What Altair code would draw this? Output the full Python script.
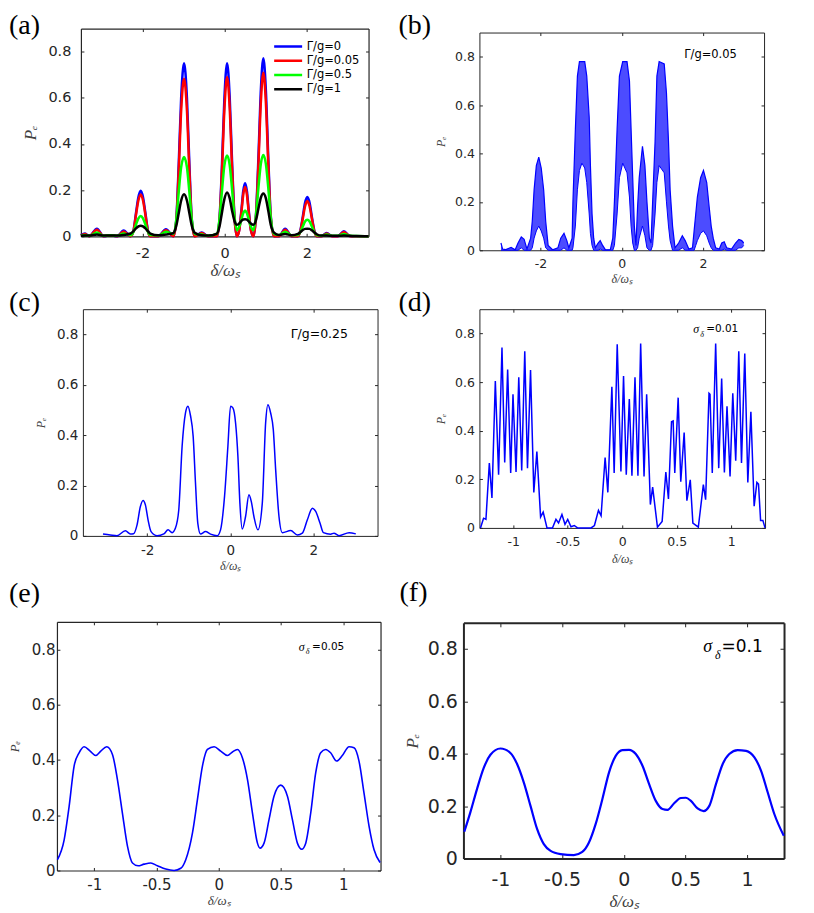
import altair as alt
import pandas as pd

AX = "#262626"
TC = "#404040"
SANS = "DejaVu Sans"
SERIF = "Liberation Serif"
BLUE = "#0000ff"
X_TITLE = "δ/ωₛ"
Y_TITLE = "Pₑ"
W, H = 798, 905   # one shared canvas; every panel gets its own scales inside it

# ---------------- data ----------------
x_ticks_wide = [-2, 0, 2]
x_ticks_narrow = [-1, -0.5, 0, 0.5, 1]
y_ticks = [0, 0.2, 0.4, 0.6, 0.8]
panel_labels = ["(a)", "(b)", "(c)", "(d)", "(e)", "(f)"]

legend_labels = ["Γ/g=0", "Γ/g=0.05", "Γ/g=0.5", "Γ/g=1"]
legend_colors = ["#0000ff", "#ff0000", "#00ff00", "#000000"]

a_x = [-3.5, -3.4, -3.3, -3.11, -2.95, -2.78, -2.62, -2.46, -2.29,
       -2.22, -2.16, -2.10, -2.045, -1.99, -1.93, -1.87, -1.81,
       -1.62, -1.43, -1.25,
       -1.18, -1.12, -1.06, -0.99, -0.92, -0.86, -0.80, -0.73,
       -0.56, -0.40, -0.19,
       -0.13, -0.07, -0.01, 0.057, 0.12, 0.18, 0.24, 0.295,
       0.35, 0.41, 0.45, 0.495, 0.54, 0.58, 0.64, 0.70,
       0.76, 0.82, 0.88, 0.94, 1.00, 1.06, 1.12, 1.20,
       1.32, 1.47, 1.63, 1.78,
       1.84, 1.90, 1.955, 2.01, 2.065, 2.12, 2.18, 2.24,
       2.35, 2.48, 2.62, 2.75, 2.90, 3.05, 3.2, 3.5]
a_blue = [0.005, 0.012, 0.0, 0.033, 0.0, 0.005, 0.0, 0.025, 0.0,
          0.025, 0.1, 0.17, 0.197, 0.17, 0.1, 0.025, 0.0,
          0.0, 0.03, 0.0,
          0.07, 0.31, 0.6, 0.75, 0.6, 0.31, 0.07, 0.0,
          0.016, 0.0, 0.0,
          0.069, 0.294, 0.589, 0.75, 0.606, 0.314, 0.079, 0.0,
          0.025, 0.12, 0.195, 0.23, 0.195, 0.12, 0.025, 0.0,
          0.09, 0.34, 0.636, 0.771, 0.636, 0.34, 0.09, 0.0,
          0.0, 0.033, 0.0, 0.0,
          0.025, 0.085, 0.145, 0.17, 0.145, 0.085, 0.025, 0.0,
          0.0, 0.014, 0.0, 0.0, 0.022, 0.0, 0.0, 0.0]
a_red = [0.004, 0.01, 0.0, 0.028, 0.0, 0.004, 0.0, 0.021, 0.0,
         0.023, 0.092, 0.156, 0.181, 0.156, 0.092, 0.023, 0.0,
         0.0, 0.026, 0.0,
         0.064, 0.282, 0.546, 0.683, 0.546, 0.282, 0.064, 0.0,
         0.014, 0.0, 0.0,
         0.063, 0.27, 0.542, 0.69, 0.558, 0.289, 0.073, 0.0,
         0.023, 0.111, 0.18, 0.213, 0.18, 0.111, 0.023, 0.0,
         0.083, 0.312, 0.584, 0.708, 0.584, 0.312, 0.083, 0.0,
         0.0, 0.028, 0.0, 0.0,
         0.022, 0.077, 0.13, 0.153, 0.13, 0.077, 0.022, 0.0,
         0.0, 0.012, 0.0, 0.0, 0.019, 0.0, 0.0, 0.0]
a_green = [0.003, 0.006, 0.002, 0.016, 0.002, 0.004, 0.002, 0.012, 0.004,
           0.02, 0.05, 0.078, 0.088, 0.078, 0.05, 0.02, 0.005,
           0.003, 0.02, 0.01,
           0.07, 0.19, 0.3, 0.343, 0.3, 0.19, 0.07, 0.01,
           0.008, 0.002, 0.01,
           0.07, 0.19, 0.305, 0.35, 0.31, 0.2, 0.08, 0.026,
           0.04, 0.075, 0.1, 0.112, 0.1, 0.075, 0.04, 0.026,
           0.09, 0.21, 0.315, 0.352, 0.315, 0.21, 0.08, 0.01,
           0.005, 0.02, 0.004, 0.005,
           0.018, 0.042, 0.064, 0.072, 0.064, 0.042, 0.018, 0.004,
           0.002, 0.008, 0.002, 0.002, 0.01, 0.002, 0.001, 0.0]
a_black = [0.002, 0.003, 0.003, 0.008, 0.003, 0.003, 0.003, 0.006, 0.012,
           0.022, 0.034, 0.043, 0.046, 0.043, 0.034, 0.022, 0.012,
           0.004, 0.008, 0.014,
           0.045, 0.1, 0.155, 0.182, 0.155, 0.1, 0.045, 0.015,
           0.004, 0.003, 0.012,
           0.04, 0.1, 0.16, 0.19, 0.165, 0.11, 0.065, 0.05,
           0.055, 0.068, 0.073, 0.074, 0.072, 0.066, 0.054, 0.05,
           0.07, 0.12, 0.168, 0.185, 0.165, 0.11, 0.05, 0.016,
           0.006, 0.01, 0.004, 0.01,
           0.018, 0.027, 0.032, 0.033, 0.032, 0.026, 0.017, 0.009,
           0.003, 0.003, 0.002, 0.002, 0.003, 0.002, 0.001, 0.0]

b_x = [-2.97, -2.93, -2.85, -2.72, -2.62, -2.55, -2.47, -2.40, -2.33,
       -2.24, -2.2, -2.155, -2.1, -2.04, -1.98, -1.92, -1.87, -1.81,
       -1.7, -1.57, -1.5, -1.42, -1.35, -1.3,
       -1.22, -1.2, -1.14, -1.09, -1.04, -0.98, -0.91, -0.86, -0.8, -0.77, -0.73, -0.69,
       -0.65, -0.58, -0.53, -0.47, -0.40, -0.28,
       -0.22, -0.18, -0.114, -0.057, 0.024, 0.13, 0.19, 0.23, 0.27, 0.31, 0.35,
       0.39, 0.43, 0.51, 0.57, 0.62, 0.68, 0.72,
       0.76, 0.82, 0.865, 0.92, 1.045, 1.1, 1.15, 1.19, 1.25, 1.31,
       1.4, 1.49, 1.56, 1.65, 1.74,
       1.78, 1.82, 1.86, 1.94, 2.01, 2.09, 2.15, 2.2, 2.25, 2.31,
       2.4, 2.46, 2.52, 2.58, 2.7, 2.8, 2.88, 2.95, 3.0]
b_hi = [0.03, 0.005, 0.003, 0.012, 0.002, 0.03, 0.055, 0.045, 0.005,
        0.05, 0.12, 0.25, 0.35, 0.385, 0.34, 0.25, 0.12, 0.02,
        0.002, 0.01, 0.05, 0.07, 0.04, 0.01,
        0.05, 0.2, 0.5, 0.72, 0.78, 0.78, 0.78, 0.72, 0.55, 0.35, 0.15, 0.05,
        0.01, 0.03, 0.04, 0.02, 0.002, 0.003,
        0.05, 0.2, 0.5, 0.72, 0.78, 0.78, 0.7, 0.5, 0.3, 0.1, 0.02,
        0.18, 0.3, 0.43, 0.35, 0.2, 0.05, 0.03,
        0.2, 0.45, 0.72, 0.78, 0.77, 0.65, 0.45, 0.25, 0.1, 0.01,
        0.03, 0.06, 0.04, 0.005, 0.01,
        0.08, 0.15, 0.22, 0.3, 0.33, 0.28, 0.18, 0.1, 0.05, 0.01,
        0.005, 0.03, 0.035, 0.01, 0.005, 0.03, 0.045, 0.04, 0.03]
b_lo = [0.0, 0.0, 0.0, 0.0, 0.0, 0.0, 0.01, 0.0, 0.0,
        0.0, 0.01, 0.05, 0.08, 0.1, 0.08, 0.05, 0.01, 0.0,
        0.0, 0.0, 0.0, 0.01, 0.0, 0.0,
        0.0, 0.01, 0.1, 0.25, 0.33, 0.36, 0.34, 0.28, 0.15, 0.07, 0.02, 0.0,
        0.0, 0.0, 0.005, 0.0, 0.0, 0.0,
        0.0, 0.02, 0.15, 0.3, 0.36, 0.32, 0.22, 0.1, 0.03, 0.0, 0.0,
        0.01, 0.05, 0.1, 0.06, 0.01, 0.0, 0.0,
        0.02, 0.15, 0.28, 0.35, 0.32, 0.2, 0.1, 0.04, 0.0, 0.0,
        0.0, 0.01, 0.0, 0.0, 0.0,
        0.0, 0.02, 0.04, 0.07, 0.08, 0.06, 0.03, 0.01, 0.0, 0.0,
        0.0, 0.0, 0.005, 0.0, 0.0, 0.0, 0.01, 0.01, 0.02]

c_x = [-3.066, -2.89, -2.73, -2.527, -2.406, -2.33, -2.245, -2.165, -2.1, -2.044,
       -1.98, -1.907, -1.763, -1.6, -1.497, -1.4, -1.32, -1.24, -1.159, -1.078,
       -1.02, -0.958, -0.893, -0.837, -0.781, -0.716, -0.596, -0.475, -0.314, -0.233,
       -0.137, -0.056, 0.008, 0.064, 0.129, 0.185, 0.233, 0.29, 0.37, 0.451,
       0.507, 0.571, 0.668, 0.773, 0.853, 0.909, 0.974, 1.038, 1.095, 1.175,
       1.256, 1.457, 1.618, 1.738, 1.859, 1.98, 2.06, 2.165, 2.245, 2.42,
       2.5, 2.62, 2.865, 3.026]
c_y = [0.008, 0.004, 0.001, 0.02, 0.008, 0.009, 0.044, 0.117, 0.141, 0.123,
       0.064, 0.017, 0.001, 0.008, 0.024, 0.013, 0.031, 0.103, 0.356, 0.488,
       0.515, 0.478, 0.395, 0.21, 0.05, 0.008, 0.017, 0.007, 0.001, 0.024,
       0.157, 0.356, 0.515, 0.508, 0.448, 0.316, 0.13, 0.027, 0.077, 0.163,
       0.137, 0.077, 0.024, 0.13, 0.448, 0.521, 0.488, 0.422, 0.263, 0.077,
       0.013, 0.021, 0.004, 0.011, 0.064, 0.11, 0.097, 0.05, 0.013, 0.007,
       0.011, 0.001, 0.013, 0.008]

d_x = [-1.30, -1.272, -1.25, -1.219, -1.195, -1.164, -1.134, -1.103, -1.078, -1.051,
       -1.023, -1.002, -0.974, -0.949, -0.922, -0.894, -0.869, -0.841, -0.811, -0.783,
       -0.749, -0.725, -0.69, -0.64, -0.608, -0.584, -0.553, -0.525, -0.50, -0.47,
       -0.44, -0.41, -0.286, -0.255, -0.218, -0.194, -0.157, -0.132, -0.095, -0.074,
       -0.046, -0.012, 0.012, 0.037, 0.065, 0.089, 0.117, 0.144, 0.169, 0.2,
       0.224, 0.258, 0.279, 0.323, 0.366, 0.4, 0.424, 0.452, 0.467, 0.482,
       0.513, 0.537, 0.568, 0.593, 0.624, 0.648, 0.698, 0.744, 0.765, 0.796,
       0.805, 0.826, 0.857, 0.885, 0.912, 0.937, 0.961, 0.989, 1.014, 1.041,
       1.069, 1.094, 1.124, 1.152, 1.18, 1.21, 1.235, 1.25, 1.269, 1.29, 1.31]
d_y = [0.0, 0.04, 0.035, 0.267, 0.123, 0.604, 0.219, 0.742, 0.269, 0.652,
       0.226, 0.55, 0.23, 0.62, 0.236, 0.727, 0.246, 0.65, 0.146, 0.314,
       0.045, 0.065, 0.0, 0.0, 0.035, 0.02, 0.055, 0.015, 0.035, 0.005,
       0.01, 0.0, 0.0, 0.01, 0.072, 0.05, 0.29, 0.146, 0.581, 0.226,
       0.756, 0.232, 0.625, 0.219, 0.53, 0.215, 0.62, 0.215, 0.759, 0.212,
       0.55, 0.096, 0.168, 0.003, 0.027, 0.23, 0.119, 0.437, 0.44, 0.226,
       0.536, 0.19, 0.392, 0.112, 0.198, 0.02, 0.003, 0.178, 0.116, 0.554,
       0.55, 0.226, 0.759, 0.246, 0.615, 0.228, 0.5, 0.212, 0.554, 0.276,
       0.727, 0.267, 0.718, 0.187, 0.478, 0.089, 0.187, 0.18, 0.031, 0.031, 0.0]

e_x = [-1.296, -1.242, -1.202, -1.162, -1.122, -1.082, -1.033, -0.988, -0.948, -0.9,
       -0.854, -0.814, -0.774, -0.733, -0.693, -0.648, -0.6, -0.546, -0.493, -0.426,
       -0.359, -0.305, -0.265, -0.211, -0.171, -0.131, -0.091, -0.037, 0.016, 0.07,
       0.11, 0.15, 0.19, 0.231, 0.271, 0.311, 0.332, 0.364, 0.404, 0.444,
       0.498, 0.552, 0.592, 0.632, 0.667, 0.699, 0.739, 0.779, 0.819, 0.859,
       0.899, 0.947, 0.993, 1.047, 1.087, 1.127, 1.167, 1.208, 1.248, 1.296]
e_y = [0.039, 0.111, 0.232, 0.378, 0.426, 0.448, 0.432, 0.416, 0.432, 0.448,
       0.42, 0.329, 0.208, 0.087, 0.027, 0.017, 0.023, 0.027, 0.017, 0.005,
       0.0, 0.008, 0.039, 0.136, 0.257, 0.378, 0.438, 0.448, 0.432, 0.416,
       0.429, 0.438, 0.408, 0.329, 0.208, 0.099, 0.081, 0.099, 0.184, 0.269,
       0.309, 0.269, 0.184, 0.099, 0.077, 0.099, 0.208, 0.353, 0.426, 0.438,
       0.426, 0.396, 0.416, 0.448, 0.444, 0.396, 0.281, 0.16, 0.075, 0.029]

f_x = [-1.293, -1.244, -1.19, -1.136, -1.081, -1.0, -0.919, -0.864, -0.81, -0.756,
       -0.702, -0.648, -0.593, -0.512, -0.404, -0.336, -0.282, -0.228, -0.173, -0.119,
       -0.065, -0.011, 0.043, 0.098, 0.152, 0.206, 0.26, 0.314, 0.355, 0.409,
       0.463, 0.504, 0.545, 0.599, 0.648, 0.694, 0.748, 0.802, 0.856, 0.924,
       0.992, 1.06, 1.114, 1.168, 1.222, 1.298]
f_y = [0.102, 0.176, 0.265, 0.345, 0.396, 0.42, 0.403, 0.36, 0.29, 0.201,
       0.112, 0.055, 0.029, 0.017, 0.013, 0.025, 0.061, 0.131, 0.227, 0.329,
       0.392, 0.414, 0.415, 0.399, 0.354, 0.284, 0.22, 0.189, 0.186, 0.211,
       0.231, 0.232, 0.22, 0.191, 0.181, 0.201, 0.284, 0.36, 0.399, 0.414,
       0.411, 0.386, 0.335, 0.252, 0.169, 0.087]

gamma_notes = ["Γ/g=0.05", "Γ/g=0.25"]
sigma_values = ["=0.01", "=0.05", "=0.1"]
sigma_sym = "σ"
delta_sym = "δ"

# ---------------- panel frames on the shared canvas (pixels) ----------------
S = {
    "a": dict(x0=72, x1=360, y0=20, y1=228, xdom=[-3.5, 3.5], xt=x_ticks_wide, tl=3,
              lfs=14.5, lpx=10, lpy=10, tfs=17, tpx=3, tpy=8, fw=1.2),
    "b": dict(x0=471, x1=756, y0=24, y1=242, xdom=[-3.5, 3.5], xt=x_ticks_wide, tl=3,
              lfs=12.5, lpx=7, lpy=5, tfs=12, tpx=4, tpy=7, fw=1),
    "c": dict(x0=74, x1=369, y0=301, y1=528, xdom=[-3.55, 3.55], xt=x_ticks_wide, tl=3,
              lfs=13.5, lpx=8, lpy=5, tfs=12, tpx=3, tpy=9, fw=1),
    "d": dict(x0=471, x1=757, y0=301, y1=520, xdom=[-1.31, 1.31], xt=x_ticks_narrow, tl=3,
              lfs=12.5, lpx=8, lpy=5, tfs=12, tpx=5, tpy=7, fw=1),
    "e": dict(x0=48, x1=372, y0=614, y1=863, xdom=[-1.3, 1.3], xt=x_ticks_narrow, tl=3,
              lfs=15, lpx=7, lpy=2, tfs=13, tpx=2, tpy=10, fw=1.2),
    "f": dict(x0=455, x1=776, y0=615, y1=851, xdom=[-1.3, 1.3], xt=x_ticks_narrow, tl=4,
              lfs=19, lpx=12, lpy=6, tfs=17, tpx=4, tpy=6, fw=2),
}


def xscale(s):
    return alt.Scale(domain=s["xdom"], range=[s["x0"], s["x1"]], nice=False, zero=False)


def yscale(s):
    return alt.Scale(domain=[0, 0.9], range=[s["y1"], s["y0"]], nice=False, zero=False)


def xenc(field, s, kind):
    bottom_off = s["y1"] - H
    top_off = -s["y0"]
    common = dict(grid=False, minExtent=0)
    if kind == "main":
        ax = alt.Axis(orient="bottom", values=s["xt"], labelExpr="'' + datum.value",
                      domain=False, tickSize=s["tl"], offset=bottom_off - s["tl"],
                      tickColor=AX, tickWidth=1, labelFont=SANS, labelFontSize=s["lfs"],
                      labelColor=AX, labelPadding=s["lpx"], labelFlush=False,
                      labelOverlap=False, title=X_TITLE, titleFont=SERIF,
                      titleFontStyle="italic", titleFontWeight="normal",
                      titleFontSize=s["tfs"], titleColor=TC, titlePadding=s["tpx"], **common)
    elif kind == "ghost":
        ax = alt.Axis(orient="top", values=s["xt"], labels=False, title=None, domain=False,
                      tickSize=s["tl"], offset=top_off - s["tl"], tickColor=AX, tickWidth=1,
                      maxExtent=0, **common)
    elif kind == "frameA":
        ax = alt.Axis(orient="bottom", labels=False, ticks=False, title=None, domain=True,
                      domainColor=AX, domainWidth=s["fw"], offset=bottom_off, maxExtent=0, **common)
    elif kind == "frameB":
        ax = alt.Axis(orient="top", labels=False, ticks=False, title=None, domain=True,
                      domainColor=AX, domainWidth=s["fw"], offset=top_off, maxExtent=0, **common)
    else:
        return alt.X(field, type="quantitative", scale=xscale(s), axis=None)
    return alt.X(field, type="quantitative", scale=xscale(s), axis=ax)


def yenc(field, s, kind):
    left_off = -s["x0"]
    right_off = s["x1"] - W
    common = dict(grid=False, minExtent=0)
    if kind == "main":
        ax = alt.Axis(orient="left", values=y_ticks, labelExpr="'' + datum.value",
                      domain=False, tickSize=s["tl"], offset=left_off - s["tl"],
                      tickColor=AX, tickWidth=1, labelFont=SANS, labelFontSize=s["lfs"],
                      labelColor=AX, labelPadding=s["lpy"], labelFlush=False,
                      labelOverlap=False, title=Y_TITLE, titleFont=SERIF,
                      titleFontStyle="italic", titleFontWeight="normal",
                      titleFontSize=s["tfs"], titleColor=TC, titlePadding=s["tpy"], **common)
    elif kind == "ghost":
        ax = alt.Axis(orient="right", values=y_ticks, labels=False, title=None, domain=False,
                      tickSize=s["tl"], offset=right_off - s["tl"], tickColor=AX, tickWidth=1,
                      maxExtent=0, **common)
    elif kind == "frameA":
        ax = alt.Axis(orient="left", labels=False, ticks=False, title=None, domain=True,
                      domainColor=AX, domainWidth=s["fw"], offset=left_off, maxExtent=0, **common)
    elif kind == "frameB":
        ax = alt.Axis(orient="right", labels=False, ticks=False, title=None, domain=True,
                      domainColor=AX, domainWidth=s["fw"], offset=right_off, maxExtent=0, **common)
    else:
        return alt.Y(field, type="quantitative", scale=yscale(s), axis=None)
    return alt.Y(field, type="quantitative", scale=yscale(s), axis=ax)


def note(text, px, py, font, size, style="normal", baseline="middle"):
    return alt.Chart(pd.DataFrame({"t": [text]})).mark_text(
        align="left", baseline=baseline, font=font, fontSize=size, fontStyle=style,
        color="black").encode(x=alt.value(px), y=alt.value(py), text="t:N")


def guides(df, s, xf="x", yf="y"):
    out = []
    for kind in ["ghost", "frameA", "frameB"]:
        out.append(alt.Chart(df).mark_line(strokeOpacity=0).encode(
            x=xenc(xf, s, kind), y=yenc(yf, s, kind)))
    return out


def simple_line(x, y, s, width, interp="monotone"):
    df = pd.DataFrame({"x": x, "y": y})
    main = alt.Chart(df).mark_line(color=BLUE, strokeWidth=width, interpolate=interp).encode(
        x=xenc("x", s, "main"), y=yenc("y", s, "main"))
    return [main] + guides(df, s)


layers = []

# ---------------- (a) ----------------
sa = S["a"]
rows = []
for lab, ys in zip(legend_labels, [a_blue, a_red, a_green, a_black]):
    for xv, yv in zip(a_x, ys):
        rows.append({"x": xv, "y": yv, "series": lab})
a_df = pd.DataFrame(rows)
a_main = alt.Chart(a_df).mark_line(strokeWidth=2.5, interpolate="monotone").encode(
    x=xenc("x", sa, "main"), y=yenc("y", sa, "main"),
    color=alt.Color("series:N", scale=alt.Scale(domain=legend_labels, range=legend_colors),
                    legend=alt.Legend(orient="none", legendX=264, legendY=31, title=None,
                                      padding=0, labelFont=SANS, labelFontSize=11.5,
                                      labelColor="black", symbolType="stroke", symbolSize=784,
                                      symbolStrokeWidth=2.5, clipHeight=14, rowPadding=0.3,
                                      labelOffset=3)))
layers += [a_main] + guides(a_df, sa)

# ---------------- (b) ----------------
sb = S["b"]
b_df = pd.DataFrame({"x": b_x, "hi": b_hi, "lo": b_lo})
layers += [
    alt.Chart(b_df).mark_area(color=BLUE, opacity=0.7).encode(
        x=xenc("x", sb, "none"), y=yenc("hi", sb, "none"), y2="lo"),
    alt.Chart(b_df).mark_line(color=BLUE, strokeWidth=1.2).encode(
        x=xenc("x", sb, "main"), y=yenc("hi", sb, "main")),
    alt.Chart(b_df).mark_line(color=BLUE, strokeWidth=1.0).encode(
        x=xenc("x", sb, "none"), y=yenc("lo", sb, "none")),
] + guides(b_df, sb, "x", "hi")
layers.append(note(gamma_notes[0], 676, 46, SANS, 11.5))

# ---------------- (c) ----------------
layers += simple_line(c_x, c_y, S["c"], 1.5)
layers.append(note(gamma_notes[1], 282, 326, SANS, 12.5))

# ---------------- (d) ----------------
layers += simple_line(d_x, d_y, S["d"], 1.5, "linear")
layers += [note(sigma_sym, 685, 321, SERIF, 12, "italic"),
           note(delta_sym, 692, 327, SERIF, 8, "italic"),
           note(sigma_values[0], 698, 321, SANS, 10.5)]

# ---------------- (e) ----------------
layers += simple_line(e_x, e_y, S["e"], 1.6)
layers += [note(sigma_sym, 290, 639, SERIF, 12, "italic"),
           note(delta_sym, 297, 644, SERIF, 8, "italic"),
           note(sigma_values[1], 303.5, 639, SANS, 10.5)]

# ---------------- (f) ----------------
layers += simple_line(f_x, f_y, S["f"], 2.2)
layers += [note(sigma_sym, 695, 639, SERIF, 18, "italic"),
           note(delta_sym, 707, 647, SERIF, 12, "italic"),
           note(sigma_values[2], 713.5, 639, SANS, 17)]

# ---------------- panel letters ----------------
label_pos = [(0, 3), (390, 3), (0, 281), (390, 281), (0, 572), (391, 571)]
for lab, (lx, ly) in zip(panel_labels, label_pos):
    layers.append(note(lab, lx, ly, SERIF, 28, "normal", "top"))

chart = alt.layer(*layers).resolve_scale(x="independent", y="independent").properties(
    width=W, height=H, padding=0, view=alt.ViewBackground(strokeOpacity=0)
).configure(background="white")

chart.save("out.html", embed_options={"renderer": "svg", "actions": False})
